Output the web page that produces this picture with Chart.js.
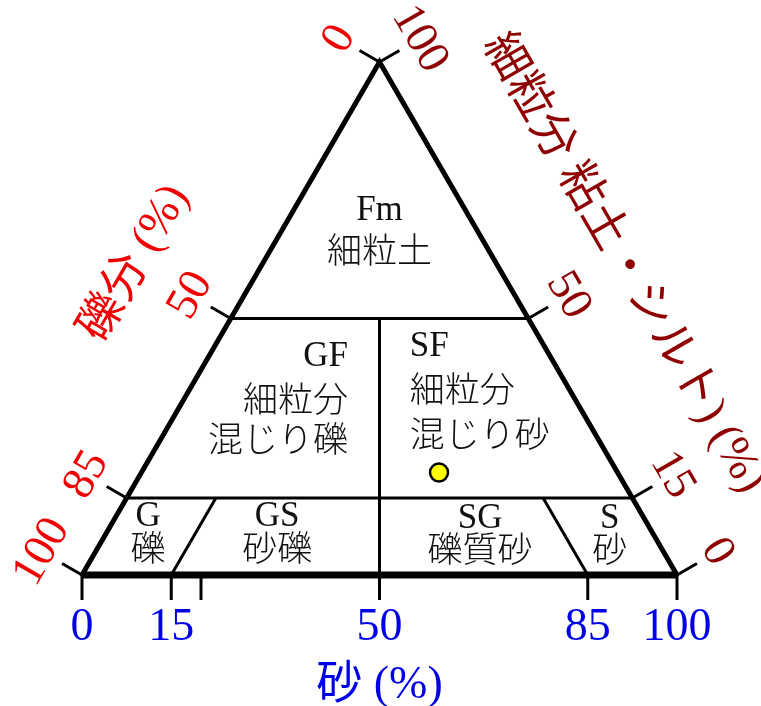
<!DOCTYPE html>
<html>
<head>
<meta charset="utf-8">
<script src="https://cdn.jsdelivr.net/npm/chart.js@4.4.1/dist/chart.umd.min.js"></script>
<style>
  html, body { margin: 0; padding: 0; background: #fff; }
  #wrap { width: 761px; height: 706px; }
</style>
</head>
<body>
<div id="wrap"><canvas id="chart"></canvas></div>
<script>
// ternary points are [gravel, sand, fines] in %
const sandTicks = [0, 15, 20, 50, 85, 100];
const sandTickLabels = ['0', '15', '', '50', '85', '100'];
const gravelTicks = [0, 50, 85, 100];
const gravelTickLabels = ['0', '50', '85', '100'];
const finesTicks = [0, 15, 50, 100];
const finesTickLabels = ['0', '15', '50', '100'];

const outline = [[100, 0, 0], [0, 0, 100], [0, 100, 0]];
const baseLine = [[100, 0, 0], [0, 100, 0]];
const fines50Line = [[50, 0, 50], [0, 50, 50]];
const fines15Line = [[85, 0, 15], [0, 85, 15]];
const gravelSandLine = [[25, 25, 50], [50, 50, 0]];
const sand15Line = [[85, 15, 0], [70, 15, 15]];
const gravel15Line = [[15, 85, 0], [15, 70, 15]];

const samplePoint = [[30, 50, 20]];

const classCodes = ['Fm', 'GF', 'SF', 'G', 'GS', 'SG', 'S'];
const classNames = [['細粒土'], ['細粒分', '混じり礫'], ['細粒分', '混じり砂'], ['礫'], ['砂礫'], ['礫質砂'], ['砂']];

const sandTitle = '砂 (%)';
const gravelTitle = '礫分 (%)';
const finesTitle = '細粒分 粘土・シルト) (%)';

// where each class label sits, in chart units (x = sand + fines/2, y = fines)
const classLayout = [
    { x: 50, align: 'center', y: [71, 62.6] },
    { x: 44.7, align: 'right', y: [42.5, 33.5, 25.7] },
    { x: 55.1, align: 'left', y: [44.4, 35.5, 26.7] },
    { x: 11.1, align: 'center', y: [11.4, 4.5] },
    { x: 32.8, align: 'center', y: [11.4, 4.5] },
    { x: 66.9, align: 'center', y: [10.9, 4.3] },
    { x: 88.7, align: 'center', y: [10.9, 4.3] }
];

const FONT = "'Liberation Serif', 'Noto Sans CJK JP', serif";

function toXY(p) {
    return { x: p[1] + p[2] / 2, y: p[2] };
}

function lineSet(points, width) {
    return {
        data: points.map(toXY),
        showLine: true,
        borderColor: '#000',
        borderWidth: width,
        pointRadius: 0,
        borderJoinStyle: 'miter',
        borderCapStyle: 'butt'
    };
}

const ternaryText = {
    id: 'ternaryText',
    afterDatasetsDraw(chart) {
        const ctx = chart.ctx;
        const sx = chart.scales.x, sy = chart.scales.y;
        const pix = p => {
            const c = toXY(p);
            return [sx.getPixelForValue(c.x), sy.getPixelForValue(c.y)];
        };
        const c30 = Math.cos(Math.PI / 6), s30 = 0.5;

        function rotText(text, x, y, angle, color, size) {
            ctx.save();
            ctx.translate(x, y);
            ctx.rotate(angle);
            ctx.fillStyle = color;
            ctx.font = size + 'px ' + FONT;
            ctx.textAlign = 'center';
            ctx.textBaseline = 'middle';
            ctx.fillText(text, 0, 0);
            ctx.restore();
        }

        ctx.save();
        ctx.strokeStyle = '#000';
        ctx.lineWidth = 3;
        ctx.lineCap = 'butt';

        // sand axis (bottom)
        sandTicks.forEach((s, i) => {
            const [x, y] = pix([100 - s, s, 0]);
            ctx.beginPath();
            ctx.moveTo(x, y);
            ctx.lineTo(x, y + 25);
            ctx.stroke();
            if (sandTickLabels[i]) {
                ctx.fillStyle = '#0000e6';
                ctx.font = '46px ' + FONT;
                ctx.textAlign = 'center';
                ctx.textBaseline = 'alphabetic';
                ctx.fillText(sandTickLabels[i], x, y + 65);
            }
        });

        // gravel axis (left)
        gravelTicks.forEach((g, i) => {
            const [x, y] = pix([g, 0, 100 - g]);
            ctx.beginPath();
            ctx.moveTo(x, y);
            ctx.lineTo(x - 23 * c30, y - 23 * s30);
            ctx.stroke();
            rotText(gravelTickLabels[i], x - 46 * c30, y - 46 * s30, -Math.PI / 3, '#f00000', 46);
        });

        // fines axis (right)
        finesTicks.forEach((f, i) => {
            const [x, y] = pix([0, 100 - f, f]);
            ctx.beginPath();
            ctx.moveTo(x, y);
            ctx.lineTo(x + 23 * c30, y - 23 * s30);
            ctx.stroke();
            rotText(finesTickLabels[i], x + 46 * c30, y - 46 * s30, Math.PI / 3, '#8f0000', 46);
        });
        ctx.restore();

        // axis titles
        const [bx] = pix([50, 50, 0]);
        ctx.save();
        ctx.fillStyle = '#0000e6';
        ctx.font = '46px ' + FONT;
        ctx.textAlign = 'center';
        ctx.textBaseline = 'alphabetic';
        ctx.fillText(sandTitle, bx, 698);
        ctx.restore();

        const [lx, ly] = pix([50, 0, 50]);
        rotText(gravelTitle, lx - 110 * c30, ly - 110 * s30, -Math.PI / 3, '#f00000', 46);
        const [rx, ry] = pix([0, 50, 50]);
        rotText(finesTitle, rx + 110 * c30, ry - 110 * s30, Math.PI / 3, '#8f0000', 46);

        // class labels
        ctx.save();
        ctx.fillStyle = '#111';
        ctx.textBaseline = 'middle';
        classCodes.forEach((code, i) => {
            const lay = classLayout[i];
            const x = sx.getPixelForValue(lay.x);
            ctx.textAlign = lay.align;
            const lines = [code].concat(classNames[i]);
            lines.forEach((t, j) => {
                ctx.font = (j === 0 ? '35px ' : '300 35px ') + FONT;
                ctx.fillText(t, x, sy.getPixelForValue(lay.y[j]));
            });
        });
        ctx.restore();
    }
};

const ctx = document.getElementById('chart');
new Chart(ctx, {
    type: 'scatter',
    data: {
        datasets: [
            lineSet(outline, 5),
            lineSet(baseLine, 7),
            lineSet(fines50Line, 3),
            lineSet(fines15Line, 3),
            lineSet(gravelSandLine, 3),
            lineSet(sand15Line, 3),
            lineSet(gravel15Line, 3),
            {
                data: samplePoint.map(toXY),
                pointRadius: 9,
                pointBackgroundColor: '#ffff00',
                pointBorderColor: '#000',
                pointBorderWidth: 2.5
            }
        ]
    },
    options: {
        responsive: true,
        maintainAspectRatio: false,
        animation: false,
        layout: { padding: 0, autoPadding: false },
        scales: {
            x: { type: 'linear', display: false, min: -82 / 5.95, max: (761 - 82) / 5.95 },
            y: { type: 'linear', display: false, min: -(706 - 575) / 5.13, max: 575 / 5.13 }
        },
        plugins: {
            legend: { display: false },
            tooltip: { enabled: false }
        }
    },
    plugins: [ternaryText]
});
</script>
</body>
</html>
